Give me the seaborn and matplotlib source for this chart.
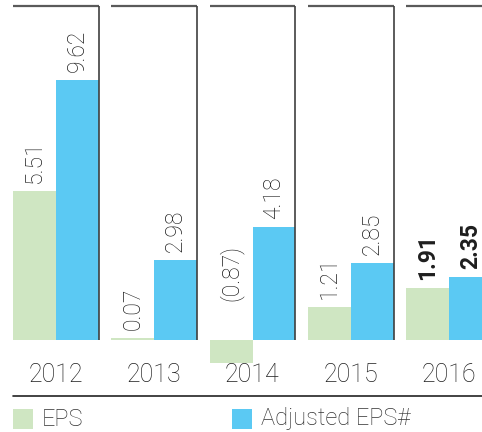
import matplotlib
matplotlib.use("Agg")
import matplotlib.pyplot as plt
import pandas as pd
import seaborn as sns
from matplotlib.lines import Line2D
from matplotlib.patches import Rectangle
from matplotlib import transforms

# ---- data ----
years = ["2012", "2013", "2014", "2015", "2016"]
eps = [5.51, 0.07, -0.87, 1.21, 1.91]
adj_eps = [9.62, 2.98, 4.18, 2.85, 2.35]
series = ["EPS", "Adjusted EPS#"]
bold_years = ["2016"]

GREEN = "#cfe6c2"
BLUE = "#5bc9f3"
TEXT = "#1e1e1e"
FRAME = "#3f3f3f"

W, H = 482, 432
PX_PER_UNIT = 27.0
ZERO_PX = 340          # baseline, px from top
AX_BOTTOM_PX = 370
PITCH_PX = 98.25
FIRST_CENTER_PX = 56
GROUP_W = 0.875

sns.set_theme(style="white")
plt.rcParams["font.family"] = ["Roboto", "DejaVu Sans"]
LIGHT = "light"

fig = plt.figure(figsize=(W / 100, H / 100), dpi=100)
ax = fig.add_axes([0, 1 - AX_BOTTOM_PX / H, 1, AX_BOTTOM_PX / H])

df = pd.DataFrame({
    "year": years * 2,
    "series": [series[0]] * len(years) + [series[1]] * len(years),
    "value": eps + adj_eps,
})
sns.barplot(data=df, x="year", y="value", hue="series", order=years,
            hue_order=series, palette=[GREEN, BLUE], width=GROUP_W,
            saturation=1, linewidth=0, errorbar=None, legend=False, ax=ax)

ax.set_ylim(-(AX_BOTTOM_PX - ZERO_PX) / PX_PER_UNIT, ZERO_PX / PX_PER_UNIT)
ax.set_xlim(-FIRST_CENTER_PX / PITCH_PX, (W - FIRST_CENTER_PX) / PITCH_PX)
ax.axis("off")

# panel frames: top rule over every year, right rule between years
ytop = (ZERO_PX - 6) / PX_PER_UNIT
half = GROUP_W / 2
for i in range(len(years)):
    ax.plot([i - half, i + half], [ytop, ytop], color="#5a5a5a", lw=1.6,
            solid_capstyle="butt", clip_on=False, zorder=5)
    if i < len(years) - 1:
        ax.plot([i + half, i + half], [0, ytop], color=FRAME, lw=1.2,
                solid_capstyle="butt", zorder=5)

# value labels
for container, vals in zip(ax.containers, [eps, adj_eps]):
    for bar, v, yr in zip(container, vals, years):
        x = bar.get_x() + bar.get_width() / 2
        label = f"({abs(v):.2f})" if v < 0 else f"{v:.2f}"
        off_px = 8 if v >= 0 else 39
        ax.annotate(label, (x, max(v, 0)), xytext=(0, off_px * 0.72),
                    textcoords="offset points", rotation=90, ha="center",
                    va="bottom", fontsize=16.5, color=TEXT,
                    fontweight="bold" if yr in bold_years else LIGHT)

# year labels
trans = transforms.blended_transform_factory(ax.transData, fig.transFigure)
for i, yr in enumerate(years):
    ax.text(i, 1 - 375 / H, yr, transform=trans, ha="center", va="center",
            fontsize=18, color=TEXT, fontweight=LIGHT)

# rule above the legend
fig.add_artist(Line2D([13 / W, 1], [1 - 396 / H] * 2, color="#222222", lw=1.2,
                      transform=fig.transFigure))

# legend
for (x0, txt_x), color, name in zip([(13, 42), (232, 261)], [GREEN, BLUE], series):
    fig.add_artist(Rectangle((x0 / W, 1 - 429 / H), 20 / W, 20 / H,
                             transform=fig.transFigure, facecolor=color,
                             edgecolor="none"))
    fig.text(txt_x / W, 1 - 419 / H, name, ha="left", va="center",
             fontsize=17, color="#333333", fontweight=LIGHT)

fig.savefig("out.png", dpi=100)
